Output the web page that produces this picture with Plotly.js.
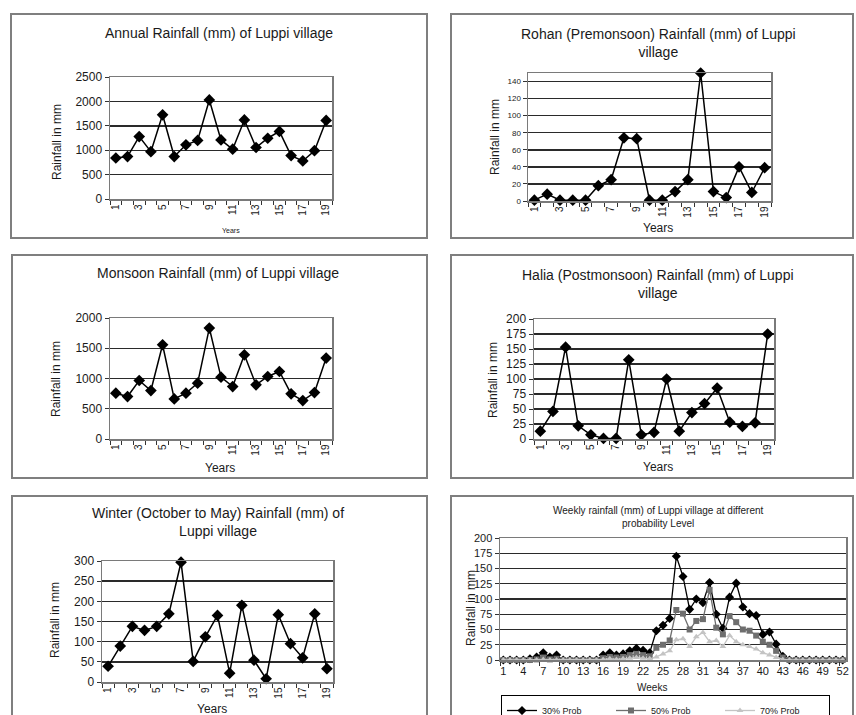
<!DOCTYPE html>
<html><head><meta charset="utf-8">
<script src="https://cdn.plot.ly/plotly-3.0.1.min.js"></script>
<style>html,body{margin:0;padding:0;background:#fff;width:856px;height:715px;overflow:hidden}#chart{width:856px;height:732px}</style>
</head><body><div id="chart"></div>
<script>
// ---------- data ----------
const years = [1,2,3,4,5,6,7,8,9,10,11,12,13,14,15,16,17,18,19];
const yearTickVals = [1,3,5,7,9,11,13,15,17,19];
const annualRain  = [840,870,1280,970,1725,870,1110,1200,2030,1210,1020,1620,1055,1245,1385,890,780,990,1610];
const rohanRain   = [1,8,1,1,1,18,25,74,73,1,1,11,25,150,11,4,40,10,39];
const monsoonRain = [757,702,967,801,1558,663,757,923,1834,1022,867,1392,895,1033,1116,746,635,768,1337];
const haliaRain   = [13,46,153,22,7,1,1,132,7,11,100,13,44,59,85,28,21,27,175];
const winterRain  = [39,89,138,128,138,169,297,51,112,165,22,190,54,8,167,95,60,169,33];

const weeks = [1,2,3,4,5,6,7,8,9,10,11,12,13,14,15,16,17,18,19,20,21,22,23,24,25,26,
               27,28,29,30,31,32,33,34,35,36,37,38,39,40,41,42,43,44,45,46,47,48,49,50,51,52];
const weekTickVals = [1,4,7,10,13,16,19,22,25,28,31,34,37,40,43,46,49,52];
const prob30 = [0,0,0,0,2,5,12,5,8,0,0,0,0,0,0,8,12,8,10,15,19,16,12,48,57,68,
                170,137,83,100,94,127,75,52,103,126,87,76,73,42,46,26,6,0,0,0,0,0,0,0,0,0];
const prob50 = [0,0,0,0,0,1,4,1,2,0,0,0,0,0,0,3,5,4,5,8,10,8,6,20,25,32,
                82,76,50,64,67,115,53,42,72,62,50,48,40,30,25,15,4,0,0,0,0,0,0,0,0,0];
const prob70 = [0,0,0,0,0,0,1,0,0,0,0,0,0,0,0,1,2,1,2,3,4,3,2,5,10,15,
                33,35,22,38,45,30,32,22,40,30,25,22,18,12,8,4,1,0,0,0,0,0,0,0,0,0];
const seriesNames = ['30% Prob','50% Prob','70% Prob'];
const yTitle = 'Rainfall in mm';

// ---------- helpers ----------
// figure is slightly taller than the 715px window so the legend box is cut off at the bottom edge
const W = 856, H = 732;
const px = v => v / W;
const py = v => 1 - v / H;
const FONT = 'Liberation Sans, Arial, sans-serif';
const TXT = '#1a1a1a';

function lineTrace(x, y, ax, extra) {
  return Object.assign({
    x: x, y: y, type: 'scatter', mode: 'lines+markers',
    xaxis: 'x' + ax, yaxis: 'y' + ax, showlegend: false, cliponaxis: false,
    line: {color: '#000', width: 1.5},
    marker: {symbol: 'diamond', size: 9, color: '#000'},
    hoverinfo: 'skip'
  }, extra || {});
}

function xAxis(n, x0, x1, opts) {
  return Object.assign({
    domain: [px(x0), px(x1)], anchor: 'y' + n,
    range: [0.5, 19.5], tickmode: 'array', tickvals: yearTickVals,
    tickangle: -90, ticks: '', showgrid: false, zeroline: false,
    showline: true, mirror: true, linecolor: '#7a7a7a', linewidth: 1.5,
    tickfont: {family: FONT, size: 10, color: TXT},
    minor: {tick0: 0.5, dtick: 1, ticks: 'outside', ticklen: 4, tickcolor: '#333', tickwidth: 1, showgrid: false},
    fixedrange: true
  }, opts || {});
}
function yAxis(n, y0, y1, range, dtick, opts) {
  return Object.assign({
    domain: [py(y1), py(y0)], anchor: 'x' + n,
    range: range, dtick: dtick, tick0: 0,
    showgrid: true, gridcolor: '#2a2a2a', gridwidth: 1.4, zeroline: false,
    showline: true, mirror: true, linecolor: '#7a7a7a', linewidth: 1.5,
    ticks: 'outside', ticklen: 4, tickcolor: '#333',
    tickfont: {family: FONT, size: 12, color: TXT},
    fixedrange: true
  }, opts || {});
}
function ann(text, x, y, size, extra) {
  return Object.assign({
    text: text, xref: 'paper', yref: 'paper', x: px(x), y: py(y),
    xanchor: 'center', yanchor: 'middle', showarrow: false,
    font: {family: FONT, size: size, color: TXT}
  }, extra || {});
}
function box(x0, y0, x1, y1) {
  return {type: 'rect', xref: 'paper', yref: 'paper',
          x0: px(x0), x1: px(x1), y0: py(y1), y1: py(y0),
          line: {color: '#7f7f7f', width: 2}, layer: 'below'};
}

// ---------- traces ----------
const data = [
  lineTrace(years, annualRain, ''),
  lineTrace(years, rohanRain, 2),
  lineTrace(years, monsoonRain, 3),
  lineTrace(years, haliaRain, 4),
  lineTrace(years, winterRain, 5),
  lineTrace(weeks, prob30, 6, {name: seriesNames[0], showlegend: true,
    line: {color: '#000', width: 1.3}, marker: {symbol: 'diamond', size: 7, color: '#000'}}),
  lineTrace(weeks, prob50, 6, {name: seriesNames[1], showlegend: true,
    line: {color: '#6e6e6e', width: 1.3}, marker: {symbol: 'square', size: 6, color: '#6e6e6e'}}),
  lineTrace(weeks, prob70, 6, {name: seriesNames[2], showlegend: true,
    line: {color: '#c4c4c4', width: 1.3}, marker: {symbol: 'triangle-up', size: 6, color: '#c4c4c4'}})
];

// ---------- layout ----------
const layout = {
  width: W, height: H, margin: {l: 0, r: 0, t: 0, b: 0},
  paper_bgcolor: '#fff', plot_bgcolor: '#fff',
  font: {family: FONT, color: TXT},
  showlegend: true,
  legend: {
    orientation: 'h', x: px(501), y: py(695), xanchor: 'left', yanchor: 'top',
    bordercolor: '#000', borderwidth: 1, bgcolor: '#fff',
    font: {family: FONT, size: 9, color: TXT},
    entrywidth: 64, itemwidth: 30, tracegroupgap: 0
  },
  xaxis:  xAxis('', 110, 332),
  yaxis:  yAxis('', 77, 199, [0, 2500], 500),
  xaxis2: xAxis(2, 528, 771),
  yaxis2: yAxis(2, 73, 201, [0, 150], 20, {tickfont: {family: FONT, size: 8, color: TXT}}),
  xaxis3: xAxis(3, 110, 332),
  yaxis3: yAxis(3, 318, 439, [0, 2000], 500),
  xaxis4: xAxis(4, 534, 774),
  yaxis4: yAxis(4, 319, 439, [0, 200], 25),
  xaxis5: xAxis(5, 102, 333),
  yaxis5: yAxis(5, 561, 682, [0, 300], 50),
  xaxis6: xAxis(6, 500, 846, {range: [0.5, 52.5], tickvals: weekTickVals, tickangle: 0,
           tickfont: {family: FONT, size: 11, color: TXT},
           minor: {tick0: 0.5, dtick: 3, ticks: 'outside', ticklen: 4, tickcolor: '#333', tickwidth: 1, showgrid: false}}),
  yaxis6: yAxis(6, 538, 660, [0, 200], 25, {tickfont: {family: FONT, size: 11, color: TXT}}),
  shapes: [
    box(11, 14, 427, 238),
    box(451, 14, 853, 238),
    box(12, 255, 427, 478),
    box(451, 255, 853, 478),
    box(12, 496, 427, 725),
    box(451, 496, 853, 725)
  ],
  annotations: [
    ann('Annual Rainfall (mm) of Luppi village', 219, 33, 14),
    ann('Rohan (Premonsoon) Rainfall (mm) of Luppi<br>village', 658, 43, 14),
    ann('Monsoon Rainfall (mm) of Luppi village', 218, 273, 14),
    ann('Halia (Postmonsoon) Rainfall (mm) of Luppi<br>village', 658, 284, 14),
    ann('Winter (October to May) Rainfall (mm) of<br>Luppi village', 218, 522, 14),
    ann('Weekly rainfall (mm) of Luppi village at different<br>probability Level', 658, 517, 10),

    ann(yTitle, 57, 142, 12, {textangle: -90}),
    ann(yTitle, 495, 137, 12, {textangle: -90}),
    ann(yTitle, 56, 379, 12, {textangle: -90}),
    ann(yTitle, 493, 380, 12, {textangle: -90}),
    ann(yTitle, 55, 620, 12, {textangle: -90}),
    ann(yTitle, 471, 608, 12, {textangle: -90}),

    ann('Years', 231, 230, 7),
    ann('Years', 658, 228, 12),
    ann('Years', 220, 468, 12),
    ann('Years', 658, 467, 12),
    ann('Years', 212, 709, 12),
    ann('Weeks', 652, 687, 10)
  ]
};

Plotly.newPlot('chart', data, layout, {staticPlot: true, displayModeBar: false});
</script>
</body></html>
